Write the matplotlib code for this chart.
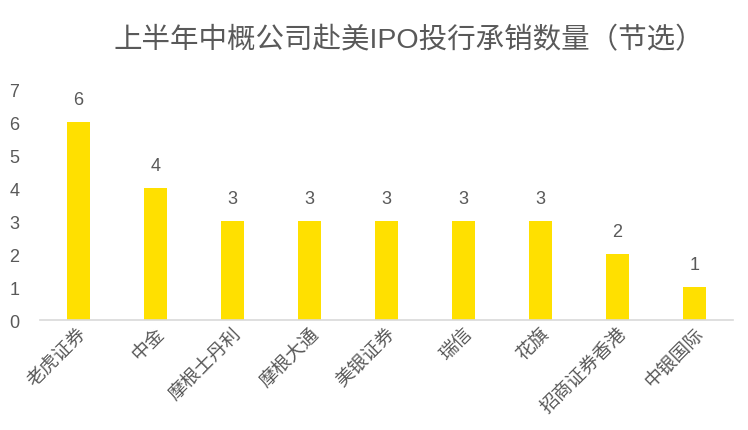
import matplotlib
matplotlib.use("Agg")
import matplotlib.pyplot as plt

plt.rcParams['font.family'] = ['Liberation Sans', 'Noto Sans CJK SC', 'DejaVu Sans']

brokers = ["老虎证券", "中金", "摩根士丹利", "摩根大通", "美银证券", "瑞信", "花旗", "招商证券香港", "中银国际"]
deals = [6, 4, 3, 3, 3, 3, 3, 2, 1]
y_ticks = [0, 1, 2, 3, 4, 5, 6, 7]

text_color = "#595959"
bar_color = "#FFE000"

fig = plt.figure(figsize=(7.48, 4.31), dpi=100)
ax = fig.add_axes([0.0535, 0.2552, 0.9265, 0.5358])

x = range(len(brokers))
bars = ax.bar(x, deals, width=0.31, color=bar_color, zorder=2)

for xi, v in zip(x, deals):
    ax.text(xi, v + 0.42, str(v), ha="center", va="bottom",
            fontsize=13, color=text_color)

ax.set_xlim(-0.5, len(brokers) - 0.5)
ax.set_ylim(0, 7)
ax.set_yticks(y_ticks)
ax.set_yticklabels([str(t) for t in y_ticks], fontsize=13, color=text_color)
ax.set_xticks(list(x))
ax.set_xticklabels(brokers, rotation=45, ha="right", va="top",
                   rotation_mode="anchor", fontsize=13.5, color=text_color)
ax.tick_params(axis="both", length=0)
ax.tick_params(axis="y", pad=15)
ax.tick_params(axis="x", pad=3)

for side in ("top", "right", "left"):
    ax.spines[side].set_visible(False)
ax.spines["bottom"].set_color("#D9D9D9")
ax.spines["bottom"].set_linewidth(1.2)

fig.text(0.547, 0.905, "上半年中概公司赴美IPO投行承销数量（节选）",
         ha="center", va="center", fontsize=20.5, color=text_color)

fig.savefig("out.png", dpi=100)
